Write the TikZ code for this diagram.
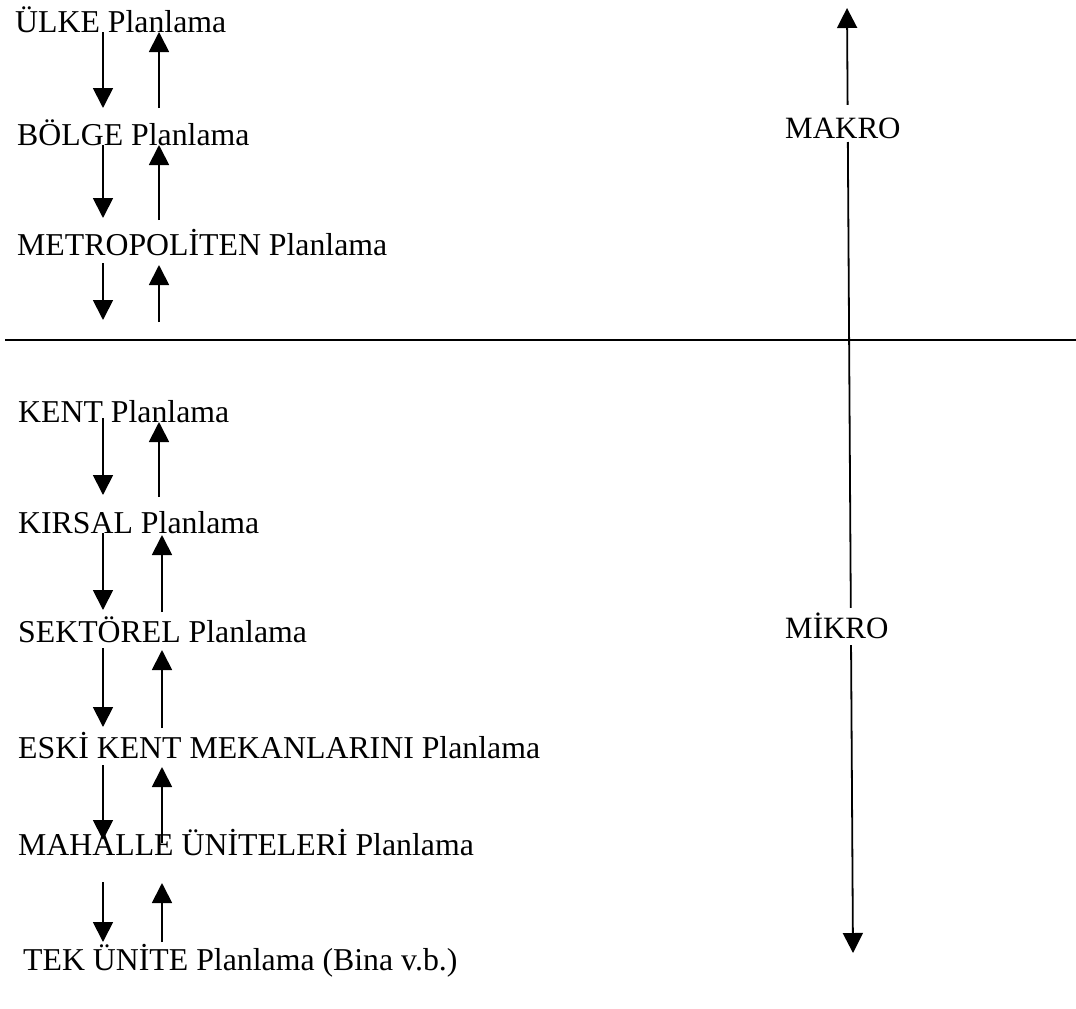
\documentclass[tikz,border=0pt]{standalone}
\usepackage{fontspec}
\setmainfont{Liberation Serif}
\usetikzlibrary{arrows.meta,calc}
\begin{document}
\begin{tikzpicture}[x=1pt,y=-1pt,
  lbl/.style={anchor=base west, inner sep=0pt, font=\fontsize{31.8}{36}\selectfont},
  axislbl/.style={anchor=base west, inner sep=0pt, font=\fontsize{31}{36}\selectfont},
  arr/.style={line width=1.8pt, -{Triangle[width=20pt,length=20pt]}},
  con/.style={line width=1.8pt}]
\useasboundingbox (0,0) rectangle (1076,1009);
% levels
\node[lbl] (ulke)     at (15,32)  {ÜLKE Planlama};
\node[lbl] (bolge)    at (17,145) {BÖLGE Planlama};
\node[lbl] (metro)    at (17,255) {METROPOLİTEN Planlama};
\node[lbl] (kent)     at (18,422) {KENT Planlama};
\node[lbl] (kirsal)   at (18,533) {KIRSAL Planlama};
\node[lbl] (sektorel) at (18,642) {SEKTÖREL Planlama};
\node[lbl] (eski)     at (18,758) {ESKİ KENT MEKANLARINI Planlama};
\node[lbl] (mahalle)  at (18,855) {MAHALLE ÜNİTELERİ Planlama};
\node[lbl] (tek)      at (23,970) {TEK ÜNİTE Planlama (Bina v.b.)};
\node[axislbl] (makro) at (785,138) {MAKRO};
\node[axislbl] (mikro) at (785,638) {MİKRO};
% helper coordinates
\coordinate (dx) at (103,0);
\coordinate (ux) at (159,0);
\coordinate (uy) at (162,0);
\coordinate (sepL) at (5,340);
\coordinate (sepR) at (1076,340);
\coordinate (top) at (847,8);
\coordinate (bot) at (853,953);
% separator
\draw[con] (sepL) -- (sepR);
% arrows between levels
\draw[arr] (ulke.base -| dx) -- ($(bolge.base -| dx)+(0,-37)$);
\draw[arr] ($(bolge.base -| ux)+(0,-37)$) -- (ulke.base -| ux);
\draw[arr] (bolge.base -| dx) -- ($(metro.base -| dx)+(0,-37)$);
\draw[arr] ($(metro.base -| ux)+(0,-35)$) -- (bolge.base -| ux);
\draw[arr] ($(metro.base -| dx)+(0,8)$) -- ($(sepL -| dx)+(0,-20)$);
\draw[arr] ($(sepL -| ux)+(0,-18)$) -- ($(metro.base -| ux)+(0,10)$);
\draw[arr] ($(kent.base -| dx)+(0,-4)$) -- ($(kirsal.base -| dx)+(0,-38)$);
\draw[arr] ($(kirsal.base -| ux)+(0,-36)$) -- (kent.base -| ux);
\draw[arr] (kirsal.base -| dx) -- ($(sektorel.base -| dx)+(0,-32)$);
\draw[arr] ($(sektorel.base -| uy)+(0,-30)$) -- ($(kirsal.base -| uy)+(0,2)$);
\draw[arr] ($(sektorel.base -| dx)+(0,6)$) -- ($(eski.base -| dx)+(0,-31)$);
\draw[arr] ($(eski.base -| uy)+(0,-30)$) -- ($(sektorel.base -| uy)+(0,8)$);
\draw[arr] ($(eski.base -| dx)+(0,7)$) -- ($(mahalle.base -| dx)+(0,-15)$);
\draw[arr] ($(mahalle.base -| uy)+(0,-12)$) -- ($(eski.base -| uy)+(0,9)$);
\draw[arr] ($(mahalle.base -| dx)+(0,27)$) -- ($(tek.base -| dx)+(0,-28)$);
\draw[arr] ($(tek.base -| uy)+(0,-28)$) -- ($(mahalle.base -| uy)+(0,28)$);
% macro / micro axis
\draw[arr] ($(top)!0.1026!(bot)$) -- (top);
\draw[con] ($(top)!0.1418!(bot)$) -- ($(top)!0.6349!(bot)$);
\draw[arr] ($(top)!0.6741!(bot)$) -- (bot);
\end{tikzpicture}
\end{document}
